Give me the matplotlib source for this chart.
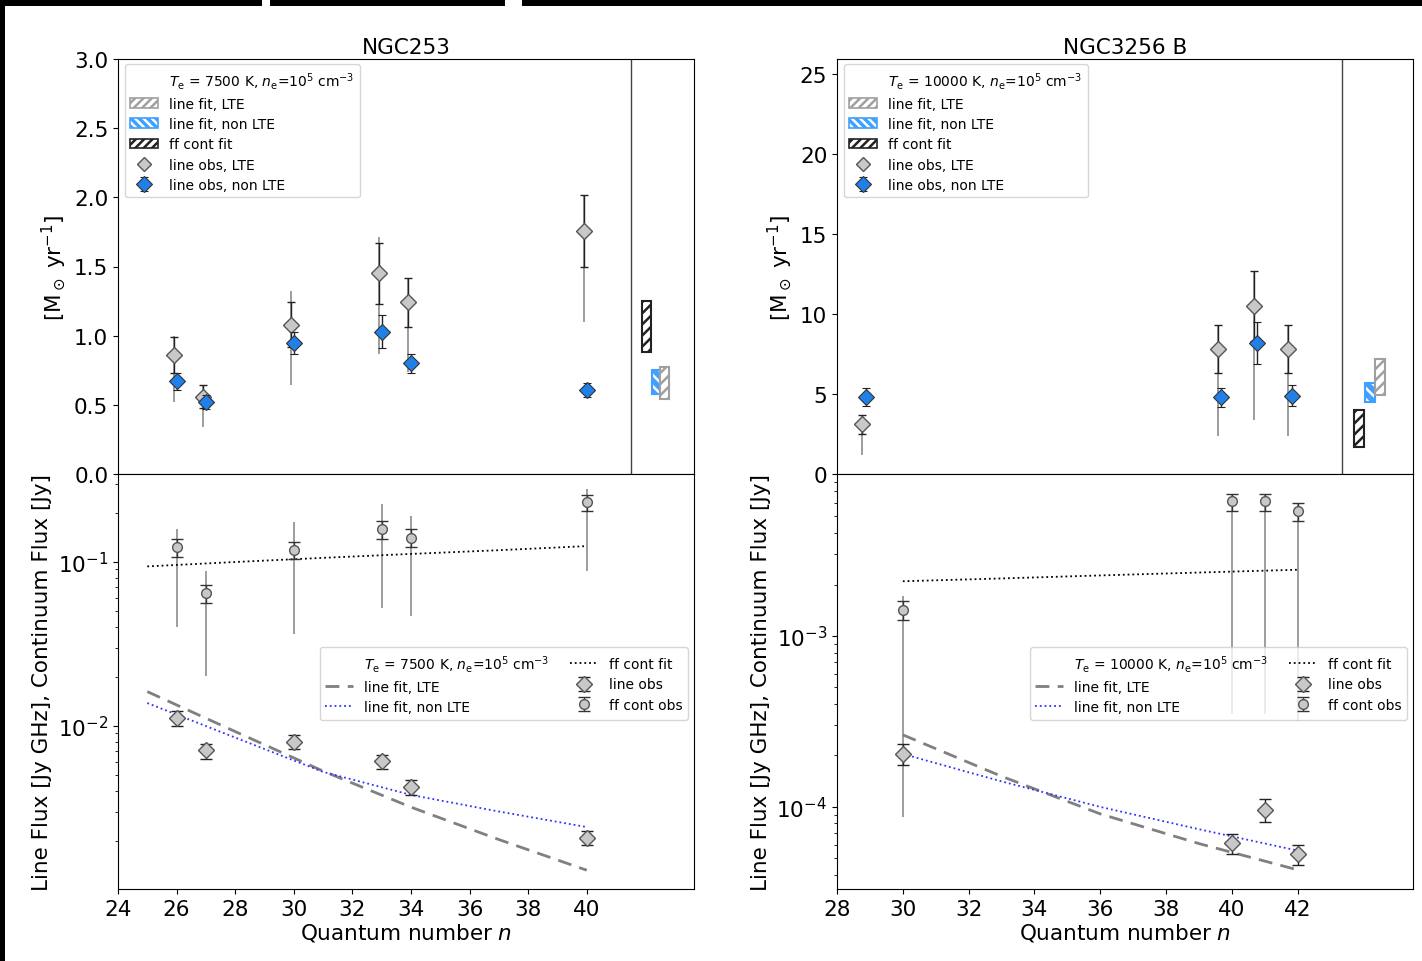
import matplotlib
matplotlib.use('Agg')
import matplotlib.pyplot as plt
from matplotlib.patches import Patch, Rectangle
from matplotlib.lines import Line2D

plt.rcParams['font.family'] = ['DejaVu Sans']
plt.rcParams['hatch.linewidth'] = 1.8

# ---------------- NGC253 ----------------
a_title = "NGC253"
a_label_top = r"$T_{\rm e}$ = 7500 K, $n_{\rm e}$=10$^5$ cm$^{-3}$"
a_lte_x = [25.9, 26.9, 29.9, 32.9, 33.9, 39.9]
a_nlte_x = [26.0, 27.0, 30.0, 33.0, 34.0, 40.0]
a_lte_val = [0.86, 0.56, 1.08, 1.45, 1.24, 1.76]
a_lte_err = [0.13, 0.08, 0.16, 0.22, 0.18, 0.26]
a_lte_sys_lo = [0.52, 0.34, 0.64, 0.87, 0.74, 1.10]
a_lte_sys_hi = [1.00, 0.64, 1.32, 1.71, 1.42, 2.02]
a_nlte_val = [0.67, 0.52, 0.95, 1.03, 0.80, 0.61]
a_nlte_err = [0.06, 0.05, 0.08, 0.12, 0.07, 0.05]
a_bar_x = [42.04, 42.36, 42.65]          # ff cont fit, non LTE, LTE
a_bar_lo = [0.88, 0.58, 0.54]
a_bar_hi = [1.25, 0.75, 0.77]

a_n = [26, 27, 30, 33, 34, 40]
a_ff_val = [0.123, 0.0647, 0.118, 0.160, 0.141, 0.232]
a_ff_lo = [0.107, 0.0563, 0.1043, 0.139, 0.123, 0.2046]
a_ff_hi = [0.138, 0.0724, 0.133, 0.179, 0.159, 0.256]
a_ff_sys_lo = [0.040, 0.0202, 0.0364, 0.0522, 0.0470, 0.088]
a_ff_sys_hi = [0.159, 0.088, 0.176, 0.226, 0.190, 0.280]
a_line_val = [0.0112, 0.00715, 0.0080, 0.00613, 0.00425, 0.00208]
a_line_lo = [0.00996, 0.0063, 0.0072, 0.0055, 0.0038, 0.00188]
a_line_hi = [0.0123, 0.0078, 0.0088, 0.0067, 0.0047, 0.0023]
a_fit_n = [25, 28, 31, 34, 37, 40]
a_fit_lte = [0.0162, 0.00925, 0.00531, 0.00320, 0.00203, 0.00132]
a_fit_nlte = [0.0138, 0.0085, 0.00525, 0.0038, 0.00301, 0.00242]
a_fit_ff = [0.094, 0.100, 0.106, 0.112, 0.118, 0.125]

# ---------------- NGC3256 B ----------------
b_title = "NGC3256 B"
b_label_top = r"$T_{\rm e}$ = 10000 K, $n_{\rm e}$=10$^5$ cm$^{-3}$"
b_lte_x = [28.76, 39.58, 40.67, 41.71]
b_nlte_x = [28.88, 39.67, 40.77, 41.83]
b_lte_val = [3.1, 7.8, 10.5, 7.8]
b_lte_err = [0.6, 1.5, 2.2, 1.5]
b_lte_sys_lo = [1.2, 2.4, 3.4, 2.4]
b_lte_sys_hi = [3.7, 9.3, 12.7, 9.3]
b_nlte_val = [4.8, 4.8, 8.2, 4.9]
b_nlte_err = [0.55, 0.6, 1.3, 0.65]
b_bar_x = [43.86, 44.20, 44.50]
b_bar_lo = [1.70, 4.50, 4.94]
b_bar_hi = [4.00, 5.70, 7.20]

b_n = [30, 40, 41, 42]
b_ff_val = [1.42e-3, 6.13e-3, 6.13e-3, 5.37e-3]
b_ff_lo = [1.24e-3, 5.37e-3, 5.37e-3, 4.7e-3]
b_ff_hi = [1.61e-3, 6.8e-3, 6.8e-3, 6.0e-3]
b_ff_sys_lo = [8.7e-5, 3.5e-4, 3.5e-4, 3.18e-4]
b_ff_sys_hi = [1.72e-3, 6.8e-3, 6.8e-3, 6.0e-3]
b_line_val = [2.04e-4, 6.13e-5, 9.64e-5, 5.3e-5]
b_line_lo = [1.76e-4, 5.3e-5, 8.2e-5, 4.6e-5]
b_line_hi = [2.32e-4, 6.9e-5, 1.12e-4, 6.0e-5]
b_fit_n = [30, 33, 36, 39, 42]
b_fit_lte = [2.64e-4, 1.51e-4, 9.1e-5, 6.1e-5, 4.28e-5]
b_fit_nlte = [2.04e-4, 1.41e-4, 1.0e-4, 7.4e-5, 5.55e-5]
b_fit_ff = [2.09e-3, 2.17e-3, 2.26e-3, 2.35e-3, 2.44e-3]

GRAY_FILL = '#c8c8c8'
GRAY_EDGE = '#555555'
BLUE = '#2080e8'
ERRC = '#222222'
SYSC = '#8c8c8c'
HATCH_BLUE = '#3fa0ff'

fig = plt.figure(figsize=(14.22, 9.62), dpi=100)

W = 576 / 1422
H = 415 / 962
panels = [
    dict(x0=118 / 1422, xlim=(24, 43.66), sep=41.5, xt=list(range(24, 41, 2)),
         ylim_top=(0, 3.0), yt_top=[0, 0.5, 1.0, 1.5, 2.0, 2.5, 3.0],
         ylim_bot=(1.014e-3, 0.344), title=a_title, lab=a_label_top,
         lte_x=a_lte_x, nlte_x=a_nlte_x, lte_val=a_lte_val, lte_err=a_lte_err,
         lte_lo=a_lte_sys_lo, lte_hi=a_lte_sys_hi, nlte_val=a_nlte_val, nlte_err=a_nlte_err,
         bx=a_bar_x, blo=a_bar_lo, bhi=a_bar_hi,
         n=a_n, ffv=a_ff_val, ffl=a_ff_lo, ffh=a_ff_hi, ffsl=a_ff_sys_lo, ffsh=a_ff_sys_hi,
         lv=a_line_val, ll=a_line_lo, lh=a_line_hi,
         fn=a_fit_n, flte=a_fit_lte, fnlte=a_fit_nlte, fff=a_fit_ff, fmt_top='%.1f'),
    dict(x0=837 / 1422, xlim=(28, 45.5), sep=43.35, xt=list(range(28, 43, 2)),
         ylim_top=(0, 25.94), yt_top=[0, 5, 10, 15, 20, 25],
         ylim_bot=(3.31e-5, 8.86e-3), title=b_title, lab=b_label_top,
         lte_x=b_lte_x, nlte_x=b_nlte_x, lte_val=b_lte_val, lte_err=b_lte_err,
         lte_lo=b_lte_sys_lo, lte_hi=b_lte_sys_hi, nlte_val=b_nlte_val, nlte_err=b_nlte_err,
         bx=b_bar_x, blo=b_bar_lo, bhi=b_bar_hi,
         n=b_n, ffv=b_ff_val, ffl=b_ff_lo, ffh=b_ff_hi, ffsl=b_ff_sys_lo, ffsh=b_ff_sys_hi,
         lv=b_line_val, ll=b_line_lo, lh=b_line_hi,
         fn=b_fit_n, flte=b_fit_lte, fnlte=b_fit_nlte, fff=b_fit_ff, fmt_top='%d'),
]

for p in panels:
    axt = fig.add_axes([p['x0'], 1 - 475 / 962, W, H])
    axb = fig.add_axes([p['x0'], 1 - 890 / 962, W, H])

    # ---------- top panel ----------
    axt.vlines(p['lte_x'], p['lte_lo'], p['lte_hi'], color=SYSC, lw=1.2, zorder=2)
    axt.errorbar(p['lte_x'], p['lte_val'], yerr=p['lte_err'], fmt='none', ecolor=ERRC,
                 elinewidth=1.0, capsize=3, capthick=1.0, zorder=3)
    axt.plot(p['lte_x'], p['lte_val'], 'D', ms=8, mfc=GRAY_FILL, mec=GRAY_EDGE, mew=1.0, zorder=4)
    h_nobs = axt.errorbar(p['nlte_x'], p['nlte_val'], yerr=p['nlte_err'], fmt='D', ms=8,
                          mfc=BLUE, mec='#333333', mew=0.8, ecolor=ERRC,
                          elinewidth=1.0, capsize=3, capthick=1.0, zorder=5)
    axt.axvline(p['sep'], color='#444444', lw=1.0)

    bw = 0.3
    # ff cont fit
    axt.bar(p['bx'][0], p['bhi'][0] - p['blo'][0], bottom=p['blo'][0], width=bw,
            facecolor='white', edgecolor='#222222', hatch='///', lw=1.5, zorder=3)
    # non LTE fit (blue with white hatch)
    axt.bar(p['bx'][1], p['bhi'][1] - p['blo'][1], bottom=p['blo'][1], width=bw,
            facecolor=HATCH_BLUE, edgecolor='white', hatch='\\\\\\', lw=0, zorder=3)
    axt.bar(p['bx'][1], p['bhi'][1] - p['blo'][1], bottom=p['blo'][1], width=bw,
            facecolor='none', edgecolor=HATCH_BLUE, lw=1.5, zorder=3)
    # LTE fit (gray hatch)
    axt.bar(p['bx'][2], p['bhi'][2] - p['blo'][2], bottom=p['blo'][2], width=bw,
            facecolor='white', edgecolor='#a0a0a0', hatch='///', lw=1.5, zorder=3)

    axt.set_xlim(*p['xlim'])
    axt.set_ylim(*p['ylim_top'])
    axt.set_yticks(p['yt_top'])
    axt.yaxis.set_major_formatter(matplotlib.ticker.FormatStrFormatter(p['fmt_top']))
    axt.tick_params(axis='x', bottom=False, labelbottom=False)
    axt.tick_params(axis='y', labelsize=15.5)
    axt.set_ylabel(r"[M$_\odot$ yr$^{-1}$]", fontsize=15.5)
    axt.set_title(p['title'], fontsize=15.5, pad=4)

    h_title = Patch(facecolor='none', edgecolor='none')
    h_lte = Patch(facecolor='white', edgecolor='#a0a0a0', hatch='////', lw=1.2)
    h_nlte = (Patch(facecolor=HATCH_BLUE, edgecolor='white', hatch='\\\\\\\\', lw=0),
              Patch(facecolor='none', edgecolor=HATCH_BLUE, lw=1.2))
    h_ff = Patch(facecolor='white', edgecolor='#222222', hatch='////', lw=1.2)
    h_lobs = Line2D([], [], ls='none', marker='D', ms=7, mfc=GRAY_FILL, mec=GRAY_EDGE)
    axt.legend([h_title, h_lte, h_nlte, h_ff, h_lobs, h_nobs],
               [p['lab'], 'line fit, LTE', 'line fit, non LTE', 'ff cont fit',
                'line obs, LTE', 'line obs, non LTE'],
               loc='upper left', bbox_to_anchor=(0.012, 0.988), borderaxespad=0,
               fontsize=10, handlelength=2.0, labelspacing=0.45, framealpha=0.8)

    # ---------- bottom panel ----------
    axb.set_yscale('log')
    axb.vlines(p['n'], p['ffsl'], p['ffsh'], color=SYSC, lw=1.2, zorder=2)
    ffv = p['ffv']
    g_fobs = axb.errorbar(p['n'], ffv,
                          yerr=[[v - l for v, l in zip(ffv, p['ffl'])],
                                [h - v for v, h in zip(ffv, p['ffh'])]],
                          fmt='o', ms=7, mfc=GRAY_FILL, mec=GRAY_EDGE, mew=1.0, ecolor='#333333',
                          elinewidth=1.0, capsize=4, capthick=1.0, zorder=4)
    lv = p['lv']
    g_lobs = axb.errorbar(p['n'], lv,
                          yerr=[[v - l for v, l in zip(lv, p['ll'])],
                                [h - v for v, h in zip(lv, p['lh'])]],
                          fmt='D', ms=8, mfc=GRAY_FILL, mec=GRAY_EDGE, mew=1.0, ecolor='#222222',
                          elinewidth=1.0, capsize=4, capthick=1.0, zorder=4)
    g_lte, = axb.plot(p['fn'], p['flte'], ls=(0, (5, 3)), color='#808080', lw=2.0, zorder=3)
    g_nlte, = axb.plot(p['fn'], p['fnlte'], ls=':', color='#3030ff', lw=1.3, zorder=3)
    g_ff, = axb.plot(p['fn'], p['fff'], ls=':', color='black', lw=1.3, zorder=3)

    axb.set_xlim(*p['xlim'])
    axb.set_ylim(*p['ylim_bot'])
    axb.set_xticks(p['xt'])
    axb.tick_params(axis='both', which='major', labelsize=15.5)
    axb.set_xlabel(r"Quantum number $n$", fontsize=15.5, labelpad=2)
    axb.set_ylabel("Line Flux [Jy GHz], Continuum Flux [Jy]", fontsize=15.5)

    g_title = Line2D([], [], ls='none')
    axb.legend([g_title, g_lte, g_nlte, g_ff, g_lobs, g_fobs],
               [p['lab'], 'line fit, LTE', 'line fit, non LTE', 'ff cont fit', 'line obs',
                'ff cont obs'],
               ncol=2, loc='upper right', bbox_to_anchor=(0.99, 0.583), borderaxespad=0,
               fontsize=10, handlelength=2.0, labelspacing=0.45, columnspacing=1.5,
               framealpha=0.8)

# black border fragments of the source image
def black_rect(x, y, w, h):
    fig.add_artist(Rectangle((x / 1422, 1 - (y + h) / 962), w / 1422, h / 962,
                             transform=fig.transFigure, facecolor='black',
                             edgecolor='none', zorder=10))

black_rect(0, 0, 262, 7)
black_rect(270, 0, 235, 7)
black_rect(522, 0, 900, 7)
black_rect(0, 0, 5, 962)

fig.savefig('out.png', dpi=100)
